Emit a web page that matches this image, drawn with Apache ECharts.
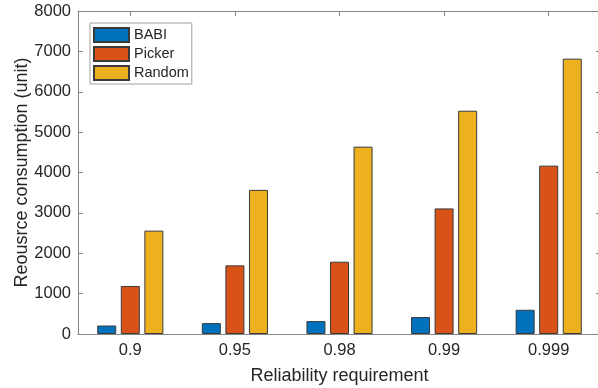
<!DOCTYPE html>
<html>
<head>
<meta charset="utf-8">
<style>
    html, body {margin: 0; padding: 0; background: #fff;}
    #myChart {width: 598px; height: 388px;}
</style>
<script src="https://cdn.jsdelivr.net/npm/echarts@6/dist/echarts.min.js"></script>
</head>
<body>
<div id="myChart"></div>
<script>
// 数据
let categories = ['0.9', '0.95', '0.98', '0.99', '0.999'];
let babi = [210, 270, 320, 420, 600];
let picker = [1190, 1700, 1790, 3110, 4170];
let random = [2560, 3570, 4640, 5530, 6820];
let seriesNames = ['BABI', 'Picker', 'Random'];
let seriesColors = ['#0072BD', '#D95319', '#EDB120'];
let yTicks = {min: 0, max: 8000, interval: 1000};

const font = '"Liberation Sans", Arial, sans-serif';
const axisGray = '#868686';
const textColor = '#262626';

let myChart = echarts.init(document.getElementById('myChart'));

// 边框轴（上、右）只画刻度
let frameAxis = {
    axisLine: {show: true, onZero: false, lineStyle: {color: axisGray, width: 1}},
    axisTick: {show: true, inside: true, length: 5, lineStyle: {color: axisGray}},
    axisLabel: {show: false},
    splitLine: {show: false}
};

let series = [babi, picker, random].map((data, i) => ({
    name: seriesNames[i],
    type: 'bar',
    data: data,
    barWidth: 19,
    barGap: '24%',
    itemStyle: {color: seriesColors[i], borderColor: '#3a3a3a', borderWidth: 1}
}));

let option = {
    backgroundColor: '#fff',
    animation: false,
    textStyle: {fontFamily: font},
    grid: {left: 78, right: -3, top: 11, bottom: 54, outerBoundsMode: 'none', containLabel: false},
    legend: {
        orient: 'vertical',
        left: 90,
        top: 23,
        padding: [4, 3, 3, 3],
        icon: 'rect',
        itemWidth: 35,
        itemHeight: 14,
        itemGap: 3,
        borderColor: '#a0a0a0',
        borderWidth: 1,
        backgroundColor: '#fff',
        textStyle: {fontSize: 14.5, color: textColor, fontFamily: font},
        data: seriesNames
    },
    xAxis: [{
        type: 'category',
        data: categories,
        position: 'bottom',
        name: 'Reliability requirement',
        nameLocation: 'middle',
        nameGap: 33,
        nameMoveOverlap: false,
        nameTextStyle: {fontSize: 18, color: textColor, fontFamily: font},
        axisLine: {show: true, onZero: false, lineStyle: {color: axisGray, width: 1}},
        axisTick: {show: true, inside: true, length: 5, alignWithLabel: true, lineStyle: {color: axisGray}},
        axisLabel: {fontSize: 16.5, color: textColor, margin: 8, fontFamily: font}
    }, {
        type: 'category',
        data: categories,
        position: 'top',
        ...frameAxis,
        axisTick: {...frameAxis.axisTick, alignWithLabel: true}
    }],
    yAxis: [{
        type: 'value',
        position: 'left',
        ...yTicks,
        name: 'Reousrce consumption (unit)',
        nameLocation: 'middle',
        nameGap: 47,
        nameMoveOverlap: false,
        nameTextStyle: {fontSize: 18, color: textColor, fontFamily: font},
        axisLine: {show: true, onZero: false, lineStyle: {color: axisGray, width: 1}},
        axisTick: {show: true, inside: true, length: 5, lineStyle: {color: axisGray}},
        axisLabel: {fontSize: 16.5, color: textColor, margin: 7, fontFamily: font, formatter: v => String(v)},
        splitLine: {show: false}
    }, {
        type: 'value',
        position: 'right',
        ...yTicks,
        ...frameAxis
    }],
    series
};

myChart.setOption(option);
</script>
</body>
</html>
